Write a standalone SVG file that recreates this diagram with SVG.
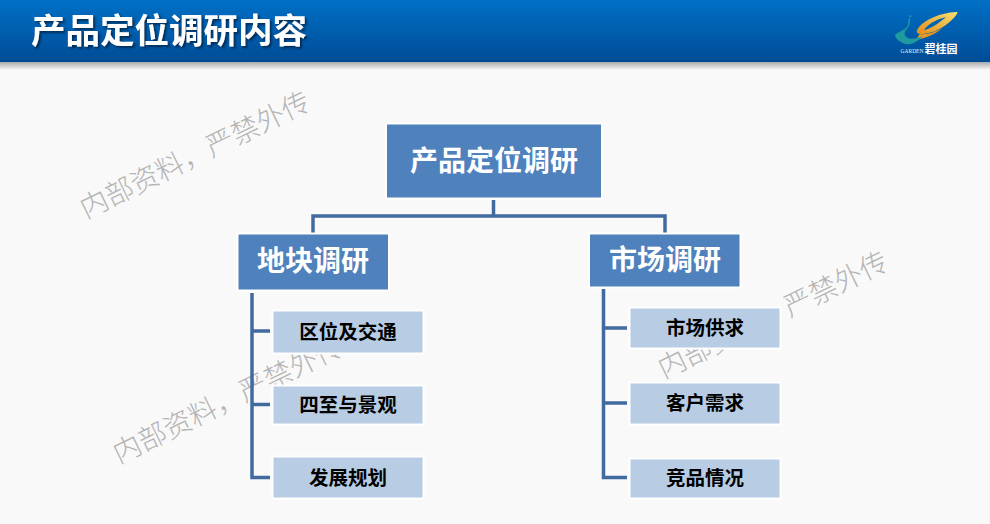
<svg xmlns="http://www.w3.org/2000/svg" width="990" height="524" viewBox="0 0 990 524">
<style>
text{font-family:"Noto Sans CJK SC","Liberation Sans",sans-serif;text-anchor:middle}
.wm{font-size:28px;fill:#b4b4b4;font-weight:300;text-anchor:start}
.lv0{fill:#4f81bd;stroke:#fff;stroke-width:2}
.lv2{fill:#b8cce4;stroke:#fff;stroke-width:2}
.t1{font-size:28px;font-weight:700;fill:#fff}
.t2{font-size:19.500px;font-weight:700;fill:#000}
.c{fill:none;stroke:#416a9e;stroke-width:3.500}
</style>
<defs>
<linearGradient id="bar" x1="0" y1="0" x2="0" y2="1"><stop offset="0" stop-color="#0070c6"/><stop offset="1" stop-color="#004c96"/></linearGradient>
<linearGradient id="shade" x1="0" y1="0" x2="0" y2="1"><stop offset="0" stop-color="#aaa"/><stop offset="1" stop-color="#f9f9f9"/></linearGradient>
<linearGradient id="gold" x1="0" y1="1" x2="1" y2="0"><stop offset="0" stop-color="#e58c1a"/><stop offset="1" stop-color="#f8e070"/></linearGradient>
<filter id="ts" x="-5%" y="-20%" width="110%" height="140%"><feDropShadow dx="2" dy="2" stdDeviation="0.8" flood-color="#06284f" flood-opacity="0.9"/></filter>
</defs>
<rect width="990" height="524" fill="#f9f9f9"/>
<rect id="header-shade" y="62" width="990" height="8" fill="url(#shade)"/>
<rect id="header" width="990" height="62" fill="url(#bar)"/>
<text x="169" y="43" font-size="34.500" font-weight="700" fill="#fff" filter="url(#ts)">产品定位调研内容</text>
<g id="logo">
<path d="M956 12C940 13 926 19 919 27C915 32 917 34 921 34C935 34 950 24 957 14C958 12 957 12 956 12ZM946 17C938 24 930 29 924 30C928 24 937 19 946 17Z" fill="url(#gold)"/>
<path d="M920 34C917 37 918 39 915 40C926 38 936 34 942 28C935 32 927 35 920 34Z" fill="#e89a20"/>
<path d="M909 15L912 16L909 18C908 22 909 25 906 28C902 31 896 33 895 35C896 41 905 45 910 44C916 43 920 39 923 36C918 38 912 40 908 38C904 36 904 33 906 30C910 26 911 21 909 15Z" fill="#1f9aa0"/>
<text x="912" y="52.500" font-size="5.500" fill="#e8eef5" style="font-family:'Liberation Serif',serif">GARDEN</text>
<text x="941" y="52.500" font-size="11" font-weight="700" fill="#fff">碧桂园</text>
</g>
<g id="watermarks">
<text class="wm" transform="translate(86 219) rotate(-26)">内部资料，严禁外传</text>
<text class="wm" transform="translate(119 464) rotate(-26)">内部资料，严禁外传</text>
<text class="wm" transform="translate(664 379) rotate(-26)">内部资料，严禁外传</text>
</g>
<g id="connectors">
<path class="c" d="M493.500 200V216M313 233V216H665V233"/>
<path class="c" d="M252 293V477.500H270M252 331H270M252 404.500H270"/>
<path class="c" d="M603.500 289V477.500H627M603.500 328H627M603.500 403H627"/>
</g>
<g id="root"><rect class="lv0" x="386" y="123.500" width="216" height="75"/><text class="t1" x="494" y="171">产品定位调研</text></g>
<g id="land"><rect class="lv0" x="237.500" y="233.500" width="151.500" height="57"/><text class="t1" x="313" y="271">地块调研</text></g>
<g id="market"><rect class="lv0" x="589" y="233.500" width="151.500" height="54"/><text class="t1" x="665" y="270">市场调研</text></g>
<g id="n1"><rect class="lv2" x="272.500" y="310.500" width="151" height="43"/><text class="t2" x="348" y="339">区位及交通</text></g>
<g id="n2"><rect class="lv2" x="272.500" y="385.500" width="151" height="39"/><text class="t2" x="348" y="412">四至与景观</text></g>
<g id="n3"><rect class="lv2" x="272.500" y="456.500" width="151" height="42"/><text class="t2" x="348" y="485">发展规划</text></g>
<g id="n4"><rect class="lv2" x="629.500" y="307.500" width="151" height="41"/><text class="t2" x="705" y="335">市场供求</text></g>
<g id="n5"><rect class="lv2" x="629.500" y="382.500" width="151" height="42"/><text class="t2" x="705" y="410">客户需求</text></g>
<g id="n6"><rect class="lv2" x="629.500" y="458.500" width="151" height="40"/><text class="t2" x="705" y="485">竞品情况</text></g>
</svg>
